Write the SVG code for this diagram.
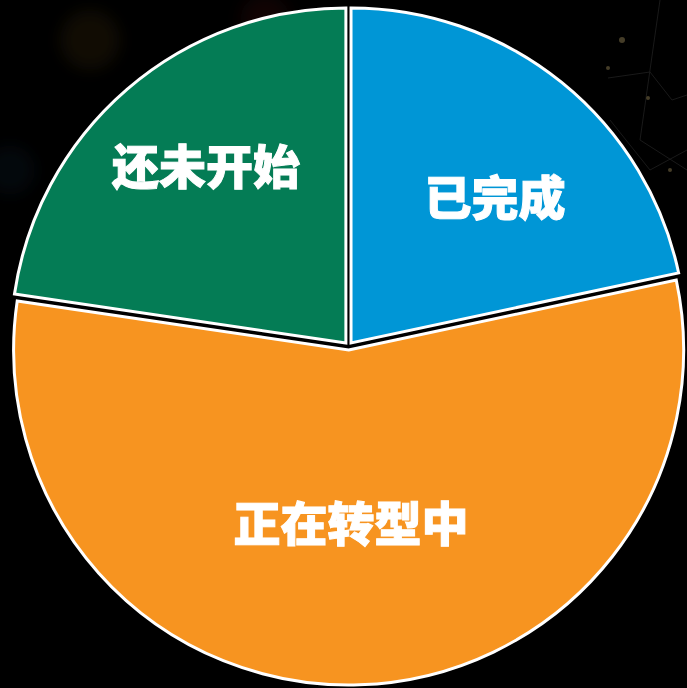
<svg xmlns="http://www.w3.org/2000/svg" width="687" height="688" viewBox="0 0 687 688">
  <style>
    .slice { stroke: #ffffff; stroke-width: 3; stroke-linejoin: miter; }
    .label { font-family: "Noto Sans CJK SC", "Noto Sans", sans-serif; font-weight: 900; font-size: 47px; fill: #ffffff; stroke: #ffffff; stroke-width: 1; text-anchor: middle; dominant-baseline: central; }
    .bokeh { filter: url(#blur); }
  </style>
  <defs>
    <filter id="blur" x="-50%" y="-50%" width="200%" height="200%">
      <feGaussianBlur stdDeviation="8"/>
    </filter>
  </defs>
  <rect x="0" y="0" width="687" height="688" fill="#000000"/>
  <g id="background" opacity="0.5">
    <circle class="bokeh" cx="90" cy="40" r="30" fill="#3a2a08" opacity="0.6"/>
    <circle class="bokeh" cx="265" cy="20" r="25" fill="#3a0808" opacity="0.6"/>
    <circle class="bokeh" cx="10" cy="170" r="25" fill="#0a1a2a" opacity="0.6"/>
    <g stroke="#555555" stroke-width="1" fill="none" opacity="0.6">
      <polyline points="608,78 650,72 672,100 687,95"/>
      <polyline points="660,0 640,140 687,170"/>
      <polyline points="610,120 650,170 687,150"/>
    </g>
    <g fill="#8a7a50">
      <circle cx="622" cy="40" r="3"/>
      <circle cx="608" cy="68" r="2"/>
      <circle cx="648" cy="98" r="2"/>
      <circle cx="670" cy="170" r="2"/>
    </g>
  </g>
  <g id="slice-done">
    <path class="slice" fill="#0096d6" d="M 351.02 342.89 L 351.02 7.89 A 335 335 0 0 1 678.64 272.95 Z"/>
    <text class="label" x="495" y="194">已完成</text>
  </g>
  <g id="slice-transforming">
    <path class="slice" fill="#f79420" d="M 348.63 350 L 676.25 280.06 A 335 335 0 1 1 17.22 301.06 Z"/>
    <text class="label" x="351" y="520">正在转型中</text>
  </g>
  <g id="slice-not-started">
    <path class="slice" fill="#047c55" d="M 345.89 342.97 L 14.48 294.03 A 335 335 0 0 1 345.89 7.97 Z"/>
    <text class="label" x="206" y="163">还未开始</text>
  </g>
  <g id="connectors"/>
</svg>
